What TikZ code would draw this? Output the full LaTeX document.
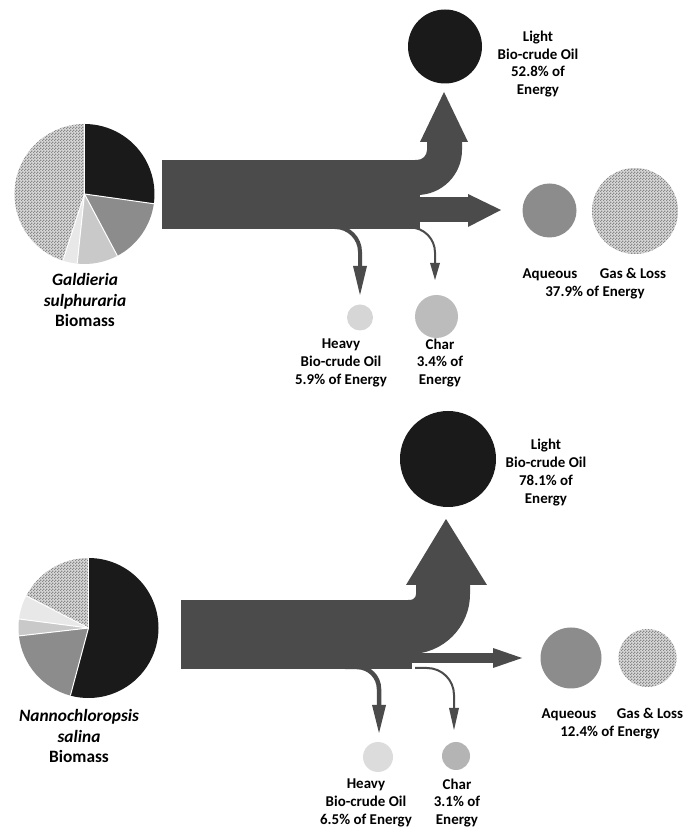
\documentclass[tikz,border=0pt]{standalone}
\usepackage{fontspec}
\setmainfont{Carlito}
\usetikzlibrary{patterns}
\pgfdeclarepatternformonly{finechk}{\pgfpointorigin}{\pgfqpoint{3bp}{3bp}}{\pgfqpoint{3bp}{3bp}}{%
  \pgfpathrectangle{\pgfpointorigin}{\pgfqpoint{1.5bp}{1.5bp}}%
  \pgfpathrectangle{\pgfqpoint{1.5bp}{1.5bp}}{\pgfqpoint{1.5bp}{1.5bp}}%
  \pgfusepath{fill}}
\definecolor{flow}{HTML}{4B4B4B}
\definecolor{blk}{HTML}{1A1A1A}
\definecolor{midg}{HTML}{8C8C8C}
\definecolor{lgt}{HTML}{C9C9C9}
\definecolor{vlgt}{HTML}{E8E8E8}
\definecolor{chk}{HTML}{888888}
\definecolor{chkbg}{HTML}{D8D8D8}
\definecolor{heavyA}{HTML}{D6D6D6}
\definecolor{charA}{HTML}{BCBCBC}
\definecolor{heavyB}{HTML}{DCDCDC}
\definecolor{charB}{HTML}{B4B4B4}
\newcommand\pieslice[5]{\fill[#5] (#1) -- ++(#2:#4) arc[start angle=#2, end angle=#3, radius=#4] -- cycle;}
\begin{document}
\begin{tikzpicture}[x=1bp,y=1bp,
  lbl/.style={font=\fontsize{15}{18}\selectfont\bfseries, align=center, inner sep=0},
  lbs/.style={font=\fontsize{15}{18}\selectfont\bfseries, inner sep=0, text height=10bp, text depth=3bp},
  nm/.style={font=\fontsize{17.4}{21}\selectfont\bfseries, align=center, inner sep=0},
  blob/.style={circle, inner sep=0, minimum size=#1},
  checker/.style={preaction={fill=chkbg}, pattern=finechk, pattern color=chk},
  sep/.style={white, line width=1bp}]
\useasboundingbox (0,0) rectangle (686,831);
\fill[white] (0,0) rectangle (686,831);

% ---------------- top: Galdieria sulphuraria ----------------
\coordinate (pieA) at (84.5,637);
\pieslice{pieA}{90}{-8}{70}{blk}
\pieslice{pieA}{-8}{-62}{70}{midg}
\pieslice{pieA}{-62}{-96}{70}{lgt}
\pieslice{pieA}{-96}{-108}{70}{vlgt}
\pieslice{pieA}{-108}{-270}{70}{checker}
\foreach \a in {90,-8,-62,-96,-108} \draw[sep] (pieA) -- ++(\a:70);

% main band
\fill[flow] (162,602) rectangle (420,671);
% light bio-crude stream turning up
\fill[flow] (415,671) -- (417,671) arc[start angle=-90,end angle=0,radius=10]
  -- (427,689) -- (420,689) -- (444,739) -- (468,689) -- (462,689) -- (462,681)
  arc[start angle=0,end angle=-90,radius=45] -- (415,636) -- cycle;
% aqueous + gas stream
\fill[flow] (410,609) rectangle (468,634);
\fill[flow] (468,604) -- (501,621) -- (468,637) -- cycle;
% heavy stream
\coordinate (hA) at (360,565);
\draw[flow, line width=4bp] (320,604) -- (335,604) arc[start angle=90,end angle=0,radius=25] -- (hA);
\fill[flow] (353,565) -- (367,565) -- (360,536) -- cycle;
% char stream
\coordinate (cA) at (435,568);
\draw[flow, line width=2bp] (400,603.5) -- (410,603.5) arc[start angle=90,end angle=0,radius=25] -- (cA);
\fill[flow] (430,568) -- (440,568) -- (435,551) -- cycle;

% product circles
\node[blob=74bp, fill=blk] (lightA) at (445,784.5) {};
\node[blob=54bp, fill=midg] (aqA) at (549.5,620.5) {};
\node[blob=86bp, checker] (gasA) at (635,620) {};
\node[blob=26bp, fill=heavyA] (heavyA) at (360,513.5) {};
\node[blob=43bp, fill=charA] (charA) at (436.5,514.5) {};

% labels
\node[lbl] (tLight) at (538,767) {Light\\Bio-crude Oil\\52.8\% of\\Energy};
\node[lbs] (tAqA) at (550,556) {Aqueous};
\node[lbs] (tGasA) at (633,556) {Gas \& Loss};
\node[lbs] (tGasAv) at (595,538) {37.9\% of Energy};
\node[lbl] (tHeavyA) at (341,468) {Heavy\\Bio-crude Oil\\5.9\% of Energy};
\node[lbl] (tCharA) at (440,468) {Char\\3.4\% of\\Energy};
\node[nm] (tGal) at (85,531) {{\itshape Galdieria}\\{\itshape sulphuraria}\\Biomass};

% ---------------- bottom: Nannochloropsis salina ----------------
\coordinate (pieB) at (88.5,203);
\pieslice{pieB}{90}{-105}{70}{blk}
\pieslice{pieB}{-105}{-173.5}{70}{midg}
\pieslice{pieB}{-173.5}{-187.4}{70}{lgt}
\pieslice{pieB}{-187.4}{-207.3}{70}{vlgt}
\pieslice{pieB}{-207.3}{-270}{70}{checker}
\foreach \a in {90,-105,-173.5,-187.4,-207.3} \draw[sep] (pieB) -- ++(\a:70);

% main band
\fill[flow] (181,162) rectangle (412,231);
% light bio-crude stream turning up
\fill[flow] (408,231) -- (410,231) arc[start angle=-90,end angle=0,radius=6]
  -- (416,246) -- (406,246) -- (446,312) -- (487,246) -- (470,246) -- (470,237)
  arc[start angle=0,end angle=-90,radius=60] -- (408,177) -- cycle;
% aqueous + gas stream
\fill[flow] (405,168) rectangle (493,178);
\fill[flow] (493,163) -- (522,173) -- (493,183) -- cycle;
% heavy stream
\coordinate (hB) at (379,126);
\draw[flow, line width=4.5bp] (345,164) -- (357,164) arc[start angle=90,end angle=0,radius=22] -- (hB);
\fill[flow] (372,126) -- (386,126) -- (379,98) -- cycle;
% char stream
\coordinate (cB) at (454,123);
\draw[flow, line width=2bp] (415,163) -- (427,163) arc[start angle=90,end angle=0,radius=27] -- (cB);
\fill[flow] (449,123) -- (459,123) -- (454,101) -- cycle;

% product circles
\node[blob=96bp, fill=blk] (lightB) at (448,372) {};
\node[blob=61bp, fill=midg] (aqB) at (571,173) {};
\node[blob=58bp, checker] (gasB) at (647.5,173) {};
\node[blob=30bp, fill=heavyB] (heavyB) at (378,74) {};
\node[blob=28bp, fill=charB] (charB) at (456,75) {};

% labels
\node[lbl] (tLightB) at (546,358.5) {Light\\Bio-crude Oil\\78.1\% of\\Energy};
\node[lbs] (tAqB) at (569,116) {Aqueous};
\node[lbs] (tGasB) at (650,116) {Gas \& Loss};
\node[lbs] (tGasBv) at (610,98) {12.4\% of Energy};
\node[lbl] (tHeavyB) at (366,28) {Heavy\\Bio-crude Oil\\6.5\% of Energy};
\node[lbl] (tCharB) at (457,28) {Char\\3.1\% of\\Energy};
\node[nm] (tNan) at (79,95) {{\itshape Nannochloropsis}\\{\itshape salina}\\Biomass};
\end{tikzpicture}
\end{document}
